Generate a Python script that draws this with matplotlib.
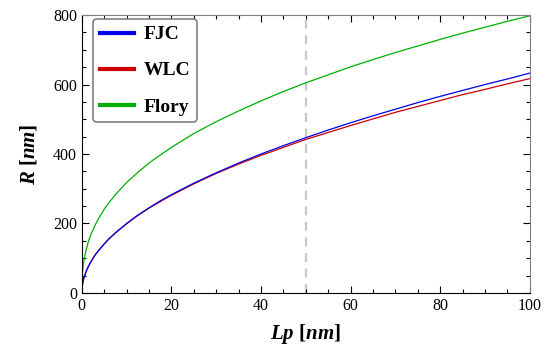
import matplotlib
matplotlib.use("Agg")
import matplotlib.pyplot as plt
from matplotlib.ticker import MultipleLocator

# values
lp = [0, 0.02, 0.05, 0.1, 0.25, 0.5, 1, 1.5, 2, 3, 4, 5, 6, 7.5, 10, 12.5,
      15, 17.5, 20, 25, 30, 35, 40, 45, 50, 55, 60, 65, 70, 75, 80, 85, 90,
      95, 100]
r_fjc = [0, 9, 14, 20, 32, 45, 63, 77, 89, 110, 126, 141, 155, 173, 200, 224,
         245, 265, 283, 316, 346, 374, 400, 424, 447, 469, 490, 510, 529, 548,
         566, 583, 600, 616, 633]
r_wlc = [0, 9, 14, 20, 32, 45, 63, 77, 89, 110, 126, 141, 155, 173, 199, 223,
         244, 263, 281, 314, 344, 371, 396, 419, 442, 462, 482, 501, 520, 537,
         554, 571, 586, 602, 617]
r_flory = [0, 26, 38, 50, 73, 96, 126, 149, 167, 196, 220, 241, 259, 283, 318,
           347, 374, 397, 419, 459, 493, 524, 553, 580, 605, 628, 651, 672, 692,
           711, 730, 748, 765, 782, 798]
lp_marker = 50

plt.rcParams["font.family"] = ["Liberation Serif", "DejaVu Serif"]
plt.rcParams["mathtext.fontset"] = "custom"
plt.rcParams["mathtext.rm"] = "Liberation Serif:bold"
plt.rcParams["mathtext.it"] = "Liberation Serif:italic:bold"

fig = plt.figure(figsize=(5.49, 3.59), dpi=100)
ax = fig.add_axes([0.149, 0.184, 0.816, 0.774])

ax.axvline(lp_marker, color="#c8c8c8", lw=1.6, ls=(0, (4, 3)), zorder=1)
ax.plot(lp, r_flory, color="#00b000", lw=0.9, label="Flory")
ax.plot(lp, r_wlc, color="#cc0000", lw=0.9, label="WLC")
ax.plot(lp, r_fjc, color="#0000ee", lw=0.9, label="FJC")

ax.set_xlim(0, 100)
ax.set_ylim(0, 800)
ax.xaxis.set_major_locator(MultipleLocator(20))
ax.xaxis.set_minor_locator(MultipleLocator(5))
ax.yaxis.set_major_locator(MultipleLocator(200))
ax.yaxis.set_minor_locator(MultipleLocator(50))
ax.tick_params(which="both", direction="in", top=True, right=True,
               labelsize=11.5, width=0.8)
ax.tick_params(which="major", length=5)
ax.tick_params(which="minor", length=3)
for s in ["top", "right"]:
    ax.spines[s].set_color("#808080")
for s in ["left", "bottom"]:
    ax.spines[s].set_color("black")

ax.set_xlabel(r"$Lp$ [$nm$]", fontsize=15, fontweight="bold", labelpad=6)
ax.set_ylabel(r"$R$ [$nm$]", fontsize=15, fontweight="bold", labelpad=10)

h, l = ax.get_legend_handles_labels()
order = [2, 1, 0]
leg = ax.legend([h[i] for i in order], [l[i] for i in order],
                loc="upper left", bbox_to_anchor=(0.025, 0.986),
                borderaxespad=0,
                prop={"weight": "bold", "size": 14},
                handlelength=1.75, handletextpad=0.5, labelspacing=0.95,
                borderpad=0.35, fancybox=True, framealpha=1,
                edgecolor="#808080")
leg.get_frame().set_linewidth(1.2)
for line in leg.get_lines():
    line.set_linewidth(3)

fig.savefig("out.png", dpi=100)
